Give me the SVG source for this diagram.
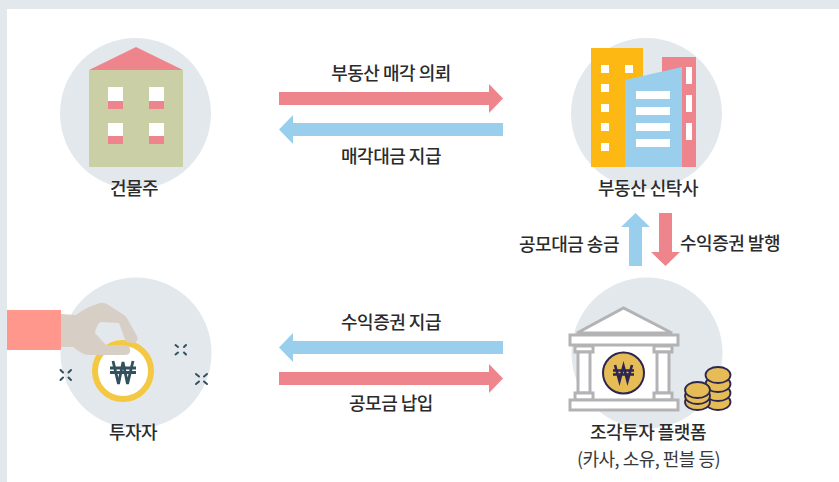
<svg xmlns="http://www.w3.org/2000/svg" width="839" height="482" viewBox="0 0 839 482">
<style>
text{font-family:"Noto Sans CJK KR","Noto Sans",sans-serif;font-size:18px;font-weight:500;fill:#2b2b2b;text-anchor:middle;letter-spacing:-.5px}
.bg{fill:#e3e8ed}.pink{fill:#ee858c}.blue{fill:#99cfec}.w{fill:#fff}
.gray{fill:#fff;stroke:#b3b3b5;stroke-width:3}
.coin{fill:#e5bc55;stroke:#2c2650;stroke-width:1.800}
.x{stroke:#33505f;stroke-width:2;stroke-linecap:round;fill:none}
</style>
<rect width="839" height="482" fill="#fff"/>
<path d="M0 0H839V9H7V482H0Z" fill="#e3e8ed"/>
<g id="owner">
<circle class="bg" cx="135.500" cy="113.500" r="75.500"/>
<rect x="89" y="70" width="94" height="97" fill="#cbcfa6"/>
<path class="pink" d="M89 70L136 47L183 70Z"/>
<g id="windows">
<rect class="w" x="108" y="87" width="15" height="14"/><rect class="pink" x="108" y="101" width="15" height="8"/>
<rect class="w" x="149" y="87" width="15" height="14"/><rect class="pink" x="149" y="101" width="15" height="8"/>
<rect class="w" x="108" y="123" width="15" height="13"/><rect class="pink" x="108" y="136" width="15" height="8"/>
<rect class="w" x="149" y="123" width="15" height="13"/><rect class="pink" x="149" y="136" width="15" height="8"/>
</g>
<text x="134" y="195">건물주</text>
</g>
<g id="trust">
<circle class="bg" cx="646.500" cy="113.500" r="75.500"/>
<rect x="591" y="48" width="52" height="119" fill="#fdb813"/>
<g class="w"><rect x="601" y="65" width="8" height="8"/><rect x="625" y="65" width="8" height="8"/><rect x="601" y="84" width="8" height="8"/><rect x="601" y="104" width="8" height="8"/><rect x="601" y="123" width="8" height="8"/><rect x="601" y="143" width="8" height="8"/></g>
<rect class="pink" x="662" y="57" width="34" height="110"/>
<path class="blue" d="M625 80L682 67V167H625Z"/>
<g class="w"><rect x="636" y="91" width="34" height="8"/><rect x="636" y="107" width="34" height="8"/><rect x="636" y="123" width="34" height="8"/><rect x="636" y="139" width="34" height="8"/>
<rect x="686" y="67" width="6" height="17"/><rect x="686" y="95" width="6" height="17"/><rect x="686" y="123" width="6" height="17"/></g>
<text x="648" y="195">부동산 신탁사</text>
</g>
<g id="investor">
<circle class="bg" cx="136" cy="353" r="75.500"/>
<circle cx="123" cy="371" r="28" fill="#fff" stroke="#f4c842" stroke-width="6"/>
<path d="M113 361L118.500 384L123 362L127.500 384L133 361M110 368H136M110 372.500H136" fill="none" stroke="#33505f" stroke-width="2.800"/>
<path d="M61 314L76 315Q86 307 100 303Q105 302 110 306L124 315Q127 317 128 320L137 336Q139 341 134 343L126 342L119 323L101 322Q97 323 95 333L106 345L126 345Q131 347 130 352Q129 355 125 355H90Q84 355 80 352L73 347L61 347Z" fill="#d7cfc6"/>
<rect x="7" y="310" width="54" height="40" fill="#ff978c"/>
<g class="x" id="sparkles">
<path d="M60.500 370L63 372.500M71 370L68.500 372.500M60.500 380L63 377.500M71 380L68.500 377.500"/>
<path d="M175.500 345L178 347M186 345L184 347M175.500 354.500L178 352.500M186 354.500L184 352.500"/>
<path d="M196 374L199 376.500M207 374L204 376.500M196 384L199 381.500M207 384L204 381.500"/>
</g>
<text x="133" y="439">투자자</text>
</g>
<g id="platform">
<circle class="bg" cx="647" cy="353" r="75.500"/>
<path d="M577 333L623.500 308L672 333Z" fill="#fff" stroke="#b3b3b5" stroke-width="3"/>
<rect x="590" y="345" width="67" height="57" fill="#fff"/>
<rect class="gray" x="570" y="335" width="108" height="10"/>
<rect class="gray" x="575" y="346" width="18" height="6"/><rect class="gray" x="654" y="346" width="18" height="6"/>
<rect class="gray" x="578" y="352" width="12" height="41"/><rect class="gray" x="657" y="352" width="12" height="41"/>
<rect class="gray" x="575" y="393" width="18" height="7"/><rect class="gray" x="654" y="393" width="18" height="7"/>
<rect class="gray" x="570" y="400" width="108" height="10"/>
<circle cx="623.500" cy="373" r="20.500" fill="#e5bc55" stroke="#2c2650" stroke-width="2"/>
<path d="M615 365L619.500 381L623.500 366L627.500 381L632 365M613 370.500H634M613 374.500H634" fill="none" stroke="#2c2650" stroke-width="2.600"/>
<g id="coins">
<ellipse class="coin" cx="718" cy="402" rx="12.500" ry="8"/>
<ellipse class="coin" cx="718" cy="393" rx="12.500" ry="8"/>
<ellipse class="coin" cx="718" cy="384" rx="12.500" ry="8"/>
<ellipse class="coin" cx="718" cy="375" rx="12.500" ry="8"/>
<ellipse class="coin" cx="697.500" cy="402" rx="12.500" ry="8"/>
<ellipse class="coin" cx="697.500" cy="396" rx="12.500" ry="8"/>
<ellipse class="coin" cx="697.500" cy="390" rx="12.500" ry="8"/>
</g>
<text x="648" y="439">조각투자 플랫폼</text>
<text x="648.500" y="466" style="font-weight:400;fill:#3a3a3a">(카사, 소유, 펀블 등)</text>
</g>
<g id="connectors">
<path class="pink" d="M279 92H489V84L503 98.500L489 113V105H279Z"/>
<path class="blue" d="M503 123H293V115L279 129.500L293 144V136H503Z"/>
<path class="blue" d="M503 341H293V333L279 347.500L293 362V354H503Z"/>
<path class="pink" d="M279 372H489V364L503 378.500L489 393V385H279Z"/>
<path class="blue" d="M629 266V227H621L635.500 213L650 227H642V266Z"/>
<path class="pink" d="M659 213V252H651L665.500 266L680 252H672V213Z"/>
</g>
<g id="labels">
<text x="391" y="80">부동산 매각 의뢰</text>
<text x="391" y="163">매각대금 지급</text>
<text x="569" y="251">공모대금 송금</text>
<text x="730" y="250">수익증권 발행</text>
<text x="391" y="329">수익증권 지급</text>
<text x="391" y="410">공모금 납입</text>
</g>
</svg>
